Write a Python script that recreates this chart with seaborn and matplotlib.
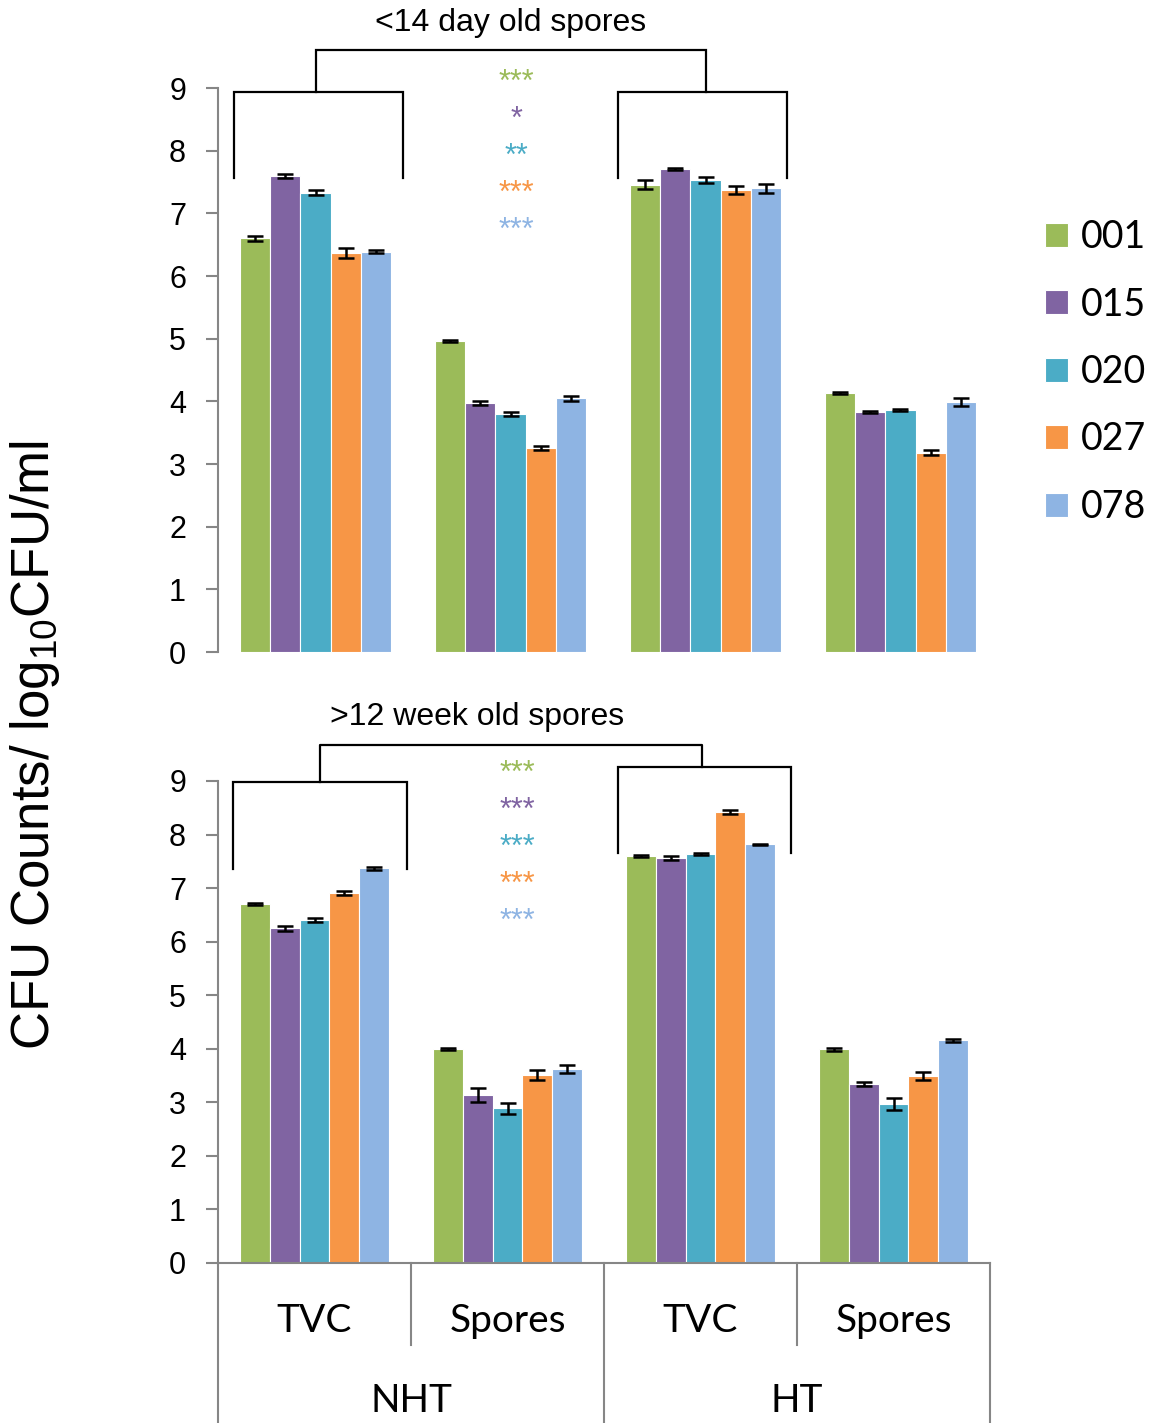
import numpy as np
import pandas as pd
import matplotlib
matplotlib.use("Agg")
import matplotlib.pyplot as plt
import matplotlib.transforms as mtransforms
import seaborn as sns


STRAINS = ["001", "015", "020", "027", "078"]
GROUPS = ["NHT TVC", "NHT Spores", "HT TVC", "HT Spores"]
SUB_LABELS = ["TVC", "Spores", "TVC", "Spores"]
TOP_LABELS = ["NHT", "HT"]
STAR_LABELS_YOUNG = ["***", "*", "**", "***", "***"]
STAR_LABELS_OLD = ["***", "***", "***", "***", "***"]

# one row per strain, one column per group
young_means = [
    [6.60, 4.96, 7.46, 4.13],
    [7.60, 3.97, 7.71, 3.83],
    [7.33, 3.80, 7.53, 3.86],
    [6.37, 3.26, 7.37, 3.18],
    [6.39, 4.05, 7.40, 3.99],
]
young_errs = [
    [0.04, 0.02, 0.07, 0.02],
    [0.03, 0.03, 0.02, 0.02],
    [0.04, 0.03, 0.05, 0.02],
    [0.08, 0.03, 0.06, 0.04],
    [0.03, 0.04, 0.07, 0.06],
]
old_means = [
    [6.70, 4.00, 7.60, 3.99],
    [6.25, 3.14, 7.56, 3.34],
    [6.40, 2.89, 7.63, 2.97],
    [6.91, 3.51, 8.42, 3.49],
    [7.37, 3.62, 7.82, 4.16],
]
old_errs = [
    [0.02, 0.02, 0.02, 0.03],
    [0.05, 0.13, 0.04, 0.04],
    [0.04, 0.10, 0.02, 0.11],
    [0.04, 0.09, 0.03, 0.08],
    [0.03, 0.07, 0.01, 0.03],
]

COLORS = ["#9BBB59", "#8064A2", "#4BACC6", "#F79646", "#8EB4E3"]
GRAY = "#868686"

W, H = 1149, 1423

plt.rcParams["font.family"] = ["Liberation Sans", "DejaVu Sans"]
plt.rcParams["mathtext.fontset"] = "custom"
plt.rcParams["mathtext.rm"] = "Liberation Sans"
plt.rcParams["mathtext.it"] = "Liberation Sans:italic"
plt.rcParams["mathtext.bf"] = "Liberation Sans:bold"


def draw_panel(ax, means, errs, width):
    df = pd.DataFrame({
        "group": np.tile(GROUPS, len(STRAINS)),
        "strain": np.repeat(STRAINS, len(GROUPS)),
        "value": np.ravel(means),
    })
    sns.barplot(
        data=df,
        x="group",
        y="value",
        hue="strain",
        palette=COLORS,
        saturation=1,
        width=width,
        errorbar=None,
        edgecolor="white",
        linewidth=0.8,
        ax=ax,
    )
    for container, err in zip(ax.containers, errs):
        xs = [b.get_x() + b.get_width() / 2 for b in container]
        ys = [b.get_height() for b in container]
        ax.errorbar(xs, ys, yerr=err, fmt="none", ecolor="black",
                    elinewidth=1.8, capsize=5.5, capthick=1.8)

    ax.set_xlim(-0.5, 3.5)
    ax.set_ylim(0, 9)
    ax.set_yticks(range(10))
    ax.set_xlabel("")
    ax.set_ylabel("")
    ax.spines["top"].set_visible(False)
    ax.spines["right"].set_visible(False)
    ax.spines["left"].set_color(GRAY)
    ax.spines["left"].set_linewidth(1.5)
    ax.tick_params(axis="y", length=9, width=1.5, color=GRAY, pad=14,
                   labelsize=22)
    ax.tick_params(axis="x", length=0, labelbottom=False)


def bracket(ax, x0, x1, y_top, y_bottom):
    ax.plot([x0, x0, x1, x1], [y_bottom, y_top, y_top, y_bottom],
            color="black", lw=1.6, clip_on=False, solid_joinstyle="miter")


fig = plt.figure(figsize=(W / 100, H / 100), dpi=100)
ax1 = fig.add_axes([218 / W, (H - 652) / H, 780 / W, 564 / H])
ax2 = fig.add_axes([218 / W, (H - 1263) / H, 772 / W, 482 / H])

draw_panel(ax1, young_means, young_errs, 0.77)
draw_panel(ax2, old_means, old_errs, 0.767)

handles, labels = ax1.get_legend_handles_labels()
ax1.get_legend().remove()
ax2.get_legend().remove()

ax1.spines["bottom"].set_visible(False)
ax2.spines["bottom"].set_color(GRAY)
ax2.spines["bottom"].set_linewidth(1.5)

# brackets and significance stars, top panel
bracket(ax1, -0.42, 0.45, 8.94, 7.56)
bracket(ax1, 1.55, 2.42, 8.94, 7.56)
bracket(ax1, 0.0, 2.0, 9.61, 8.94)
ax1.text(1.0, 10.04, "<14 day old spores", ha="center", va="center",
         fontsize=23, clip_on=False)
for i, (stars, color) in enumerate(zip(STAR_LABELS_YOUNG, COLORS)):
    ax1.text(1.03, 9.08 - i * 0.59, stars, color=color, ha="center",
             va="center", fontsize=22)

# brackets and significance stars, bottom panel
bracket(ax2, -0.42, 0.48, 8.98, 7.36)
bracket(ax2, 1.57, 2.47, 9.26, 7.66)
ax2.plot([0.03, 0.03, 2.01, 2.01], [8.98, 9.67, 9.67, 9.26],
         color="black", lw=1.6, clip_on=False)
ax2.text(0.84, 10.19, ">12 week old spores", ha="center", va="center",
         fontsize=23, clip_on=False)
for i, (stars, color) in enumerate(zip(STAR_LABELS_OLD, COLORS)):
    ax2.text(1.05, 9.125 - i * 0.69, stars, color=color, ha="center",
             va="center", fontsize=22)

# two level category axis
trans = mtransforms.blended_transform_factory(ax2.transData, ax2.transAxes)
for k, xb in enumerate(np.arange(-0.5, 4.0, 1.0)):
    y_end = -0.335 if k % 2 == 0 else -0.170
    ax2.plot([xb, xb], [0, y_end], color=GRAY, lw=1.5, transform=trans,
             clip_on=False)
for i, lab in enumerate(SUB_LABELS):
    ax2.text(i, -0.12, lab, transform=trans, ha="center", va="center",
             fontsize=28, family="Lato")
for j, lab in enumerate(TOP_LABELS):
    ax2.text(0.5 + 2 * j, -0.286, lab, transform=trans, ha="center",
             va="center", fontsize=28, family="Lato")

fig.text(35 / W, 1 - 745 / H, "CFU Counts/ log$_{10}$CFU/ml", rotation=90,
         ha="center", va="center", fontsize=38)

fig.legend(
    handles, labels,
    loc="upper left",
    bbox_to_anchor=(1045 / W, 1 - 219 / H),
    frameon=False,
    prop={"family": "Lato", "size": 27},
    handlelength=0.62,
    handleheight=0.62,
    handletextpad=0.35,
    labelspacing=0.84,
    borderpad=0,
    borderaxespad=0,
)

fig.savefig("out.png", dpi=100)
